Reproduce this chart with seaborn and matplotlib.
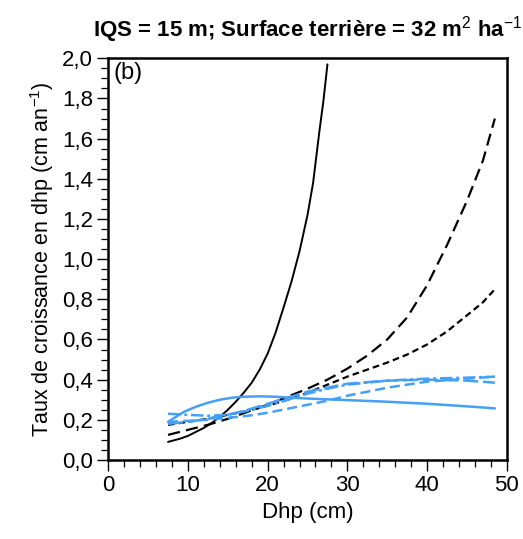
import numpy as np
import pandas as pd
import matplotlib
matplotlib.use("Agg")
import matplotlib.pyplot as plt
import seaborn as sns
from matplotlib.ticker import MultipleLocator, FuncFormatter

# Data (Dhp in cm, growth in cm/an)
black_solid_x = [7.5, 9, 10, 11, 12, 13, 14, 15, 16, 17, 18, 19, 20, 21, 22, 23, 24, 25, 25.7, 26.5, 27, 27.5]
black_solid_y = [0.09, 0.106, 0.12, 0.14, 0.16, 0.185, 0.215, 0.25, 0.29, 0.335, 0.385, 0.45, 0.53, 0.635,
                 0.76, 0.89, 1.04, 1.22, 1.38, 1.64, 1.79, 1.97]

black_long_x = [7.5, 10, 12.5, 15, 17.5, 20, 22.5, 25, 27.5, 30, 32.5, 35, 37.5, 40, 42.5, 45, 47, 48.5]
black_long_y = [0.125, 0.15, 0.175, 0.205, 0.24, 0.275, 0.315, 0.355, 0.40, 0.455, 0.52, 0.60, 0.71, 0.87,
                1.07, 1.29, 1.49, 1.70]

black_short_x = [7.5, 10, 12.5, 15, 17.5, 20, 22.5, 25, 27.5, 30, 32.5, 35, 37.5, 40, 42.5, 45, 47, 48.5]
black_short_y = [0.175, 0.19, 0.205, 0.225, 0.245, 0.27, 0.30, 0.335, 0.375, 0.415, 0.45, 0.485, 0.525,
                 0.575, 0.64, 0.72, 0.785, 0.85]

blue_solid_x = [7.5, 8.5, 9.5, 11, 12.5, 14, 15.5, 17, 19, 21, 23, 25, 27.5, 30, 35, 40, 45, 48.5]
blue_solid_y = [0.19, 0.215, 0.24, 0.265, 0.285, 0.30, 0.31, 0.315, 0.317, 0.315, 0.31, 0.306, 0.302,
                0.298, 0.29, 0.28, 0.267, 0.257]

blue_dashdot_x = [7.5, 10, 12.5, 15, 17.5, 20, 22.5, 25, 27.5, 30, 35, 40, 45, 48.5]
blue_dashdot_y = [0.23, 0.225, 0.22, 0.225, 0.245, 0.27, 0.30, 0.33, 0.355, 0.375, 0.395, 0.405, 0.41, 0.415]

blue_dash_x = [7.5, 10, 12.5, 15, 17.5, 20, 22.5, 25, 27.5, 30, 35, 40, 45, 48.5]
blue_dash_y = [0.18, 0.19, 0.205, 0.225, 0.25, 0.28, 0.31, 0.34, 0.36, 0.38, 0.395, 0.40, 0.395, 0.385]

blue_short_x = [7.5, 10, 12.5, 15, 17.5, 20, 22.5, 25, 27.5, 30, 35, 40, 45, 48.5]
blue_short_y = [0.19, 0.195, 0.20, 0.21, 0.22, 0.235, 0.255, 0.275, 0.295, 0.32, 0.36, 0.39, 0.405, 0.415]

BLUE = "#45a0f8"

sns.set_style("ticks")
plt.rcParams["font.family"] = ["Liberation Sans", "DejaVu Sans"]
plt.rcParams["mathtext.fontset"] = "custom"
plt.rcParams["mathtext.rm"] = "Liberation Sans"
plt.rcParams["mathtext.bf"] = "Liberation Sans:bold"
plt.rcParams["text.color"] = "black"
plt.rcParams["axes.labelcolor"] = "black"
plt.rcParams["xtick.color"] = "black"
plt.rcParams["ytick.color"] = "black"

fig = plt.figure(figsize=(5.23, 5.39), dpi=100)
ax = fig.add_axes([0.207, 0.1466, 0.762, 0.7452])

curves = [
    (black_solid_x, black_solid_y, "black", 1.4, None),
    (black_long_x, black_long_y, "black", 1.6, (5.5, 2.8)),
    (black_short_x, black_short_y, "black", 1.6, (3.0, 1.8)),
    (blue_solid_x, blue_solid_y, BLUE, 1.8, None),
    (blue_dashdot_x, blue_dashdot_y, BLUE, 1.8, (5.0, 1.5, 1.2, 1.5)),
    (blue_dash_x, blue_dash_y, BLUE, 1.8, (6.0, 2.0)),
    (blue_short_x, blue_short_y, BLUE, 1.8, (4.0, 2.0)),
]

for xs, ys, col, lw, dash in curves:
    df = pd.DataFrame({"Dhp": xs, "taux": ys})
    line_ax = sns.lineplot(data=df, x="Dhp", y="taux", color=col, linewidth=lw,
                           estimator=None, sort=True, ax=ax)
    if dash is not None:
        line_ax.lines[-1].set_dashes(dash)

ax.set_xlim(0, 50)
ax.set_ylim(0, 2.0)
ax.xaxis.set_major_locator(MultipleLocator(10))
ax.xaxis.set_minor_locator(MultipleLocator(2))
ax.yaxis.set_major_locator(MultipleLocator(0.2))
ax.yaxis.set_minor_locator(MultipleLocator(0.05))
ax.yaxis.set_major_formatter(FuncFormatter(lambda v, p: f"{v:.1f}".replace(".", ",")))
ax.tick_params(which="major", direction="out", length=8, width=1.0, labelsize=16, colors="black", pad=3)
ax.tick_params(which="minor", direction="out", length=5, width=0.9)
for s in ax.spines.values():
    s.set_linewidth(1.8)
    s.set_color("black")

ax.set_xlabel("Dhp (cm)", fontsize=16, labelpad=4)
ax.set_ylabel("Taux de croissance en dhp (cm an$^{-1}$)", fontsize=15.5, labelpad=4)
ax.set_title("IQS = 15 m; Surface terrière = 32 m$^{2}$ ha$^{-1}$",
             fontsize=16, fontweight="bold", pad=16)
ax.text(0.012, 0.99, "(b)", transform=ax.transAxes, fontsize=17, va="top", ha="left")

fig.savefig("out.png", dpi=100)
